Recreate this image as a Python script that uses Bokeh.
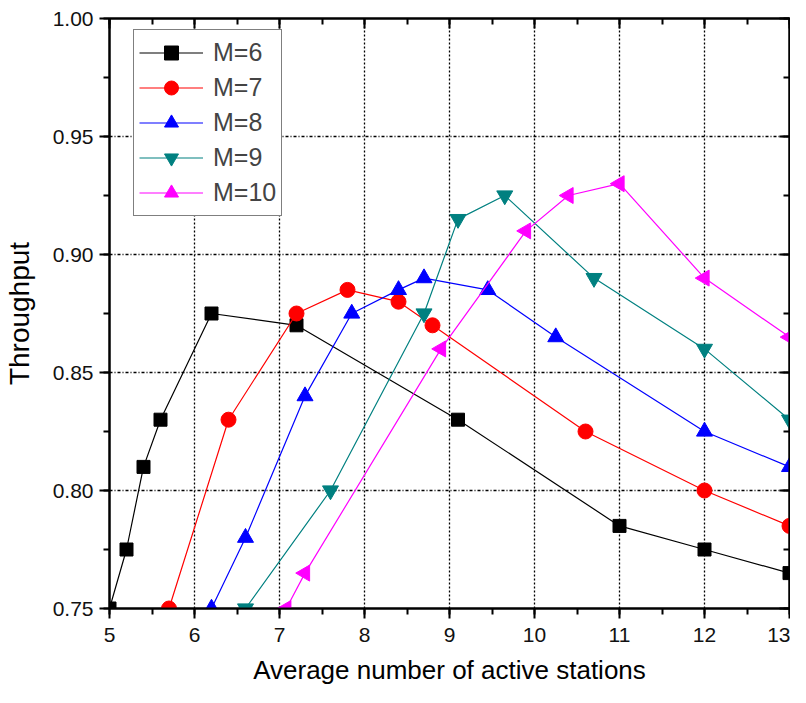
import numpy as np
from bokeh.plotting import figure
from bokeh.models import (LinearAxis, SingleIntervalTicker, Range1d, Legend, LegendItem,
                          NumeralTickFormatter, CustomJSTickFormatter, ColumnDataSource)
from bokeh.embed import file_html
from bokeh.resources import INLINE

# ---- data ----
x_m6 = [5.0, 5.2, 5.4, 5.6, 6.2, 7.2, 9.1, 11.0, 12.0, 13.0]
y_m6 = [0.750, 0.775, 0.810, 0.830, 0.875, 0.870, 0.830, 0.785, 0.775, 0.765]

x_m7 = [5.7, 6.4, 7.2, 7.8, 8.4, 8.8, 10.6, 12.0, 13.0]
y_m7 = [0.750, 0.830, 0.875, 0.885, 0.880, 0.870, 0.825, 0.800, 0.785]

x_m8 = [6.2, 6.6, 7.3, 7.85, 8.4, 8.7, 9.45, 10.25, 12.0, 13.0]
y_m8 = [0.750, 0.780, 0.840, 0.875, 0.885, 0.890, 0.885, 0.865, 0.825, 0.810]

x_m9 = [6.6, 7.6, 8.7, 9.1, 9.65, 10.7, 12.0, 13.0]
y_m9 = [0.750, 0.800, 0.875, 0.915, 0.925, 0.890, 0.860, 0.830]

x_m10 = [7.08, 7.3, 8.9, 9.9, 10.4, 11.0, 12.0, 13.0]
y_m10 = [0.750, 0.765, 0.860, 0.910, 0.925, 0.930, 0.890, 0.865]

labels = ["M=6", "M=7", "M=8", "M=9", "M=10"]
colors = ["#000000", "#ff0000", "#0000ff", "#008080", "#ff00ff"]

FONT = "Liberation Sans"

p = figure(width=790, height=687, output_backend="svg", toolbar_location=None,
           x_range=Range1d(5, 13), y_range=Range1d(0.75, 1.0),
           min_border_left=103, min_border_right=1, min_border_top=18, min_border_bottom=40)
p.outline_line_color = "black"
p.outline_line_width = 2
p.background_fill_color = "white"
p.border_fill_color = "white"

p.xaxis.ticker = SingleIntervalTicker(interval=1, num_minor_ticks=2)
p.yaxis.ticker = SingleIntervalTicker(interval=0.05, num_minor_ticks=2)
p.yaxis.formatter = NumeralTickFormatter(format="0.00")

for ax in (p.xaxis[0], p.yaxis[0]):
    ax.axis_line_width = 2
    ax.major_tick_line_width = 2
    ax.minor_tick_line_width = 2
    ax.major_tick_out = 10
    ax.major_tick_in = 0
    ax.minor_tick_out = 6
    ax.minor_tick_in = 0
    ax.major_label_text_font = FONT
    ax.major_label_text_font_size = "21px"
    ax.major_label_text_color = "#111111"
    ax.axis_label_text_font = FONT
    ax.axis_label_text_font_style = "normal"
    ax.axis_label_text_color = "#000000"

p.xaxis.axis_label = "Average number of active stations"
p.xaxis.axis_label_text_font_size = "26px"
p.xaxis.major_label_standoff = 9
p.xaxis.axis_label_standoff = 10
p.yaxis.axis_label = "Throughput"
p.yaxis.axis_label_text_font_size = "28px"
p.yaxis.major_label_standoff = 6
p.yaxis.axis_label_standoff = 15

# top and right axes with inward ticks, no labels
top = LinearAxis(ticker=SingleIntervalTicker(interval=1, num_minor_ticks=2),
                 formatter=CustomJSTickFormatter(code="return ''"), major_label_standoff=0)
right = LinearAxis(ticker=SingleIntervalTicker(interval=0.05, num_minor_ticks=2),
                   formatter=CustomJSTickFormatter(code="return ''"), major_label_standoff=0)
for ax in (top, right):
    ax.axis_line_width = 2
    ax.major_tick_line_width = 2
    ax.minor_tick_line_width = 2
    ax.major_tick_out = 0
    ax.major_tick_in = 10
    ax.minor_tick_out = 0
    ax.minor_tick_in = 6
p.add_layout(top, "above")
p.add_layout(right, "right")

p.xgrid.grid_line_color = "black"
p.xgrid.grid_line_dash = "2 2"
p.xgrid.grid_line_width = 1.3
p.ygrid.grid_line_color = "black"
p.ygrid.grid_line_dash = "3 2 1 2"
p.ygrid.grid_line_width = 1.3

series = [(x_m6, y_m6), (x_m7, y_m7), (x_m8, y_m8), (x_m9, y_m9), (x_m10, y_m10)]
markers = ["square", "circle", "triangle", "inverted_triangle", "triangle"]
sizes = [13, 15, 16, 16, 16]
angles = [0.0, 0.0, 0.0, 0.0, np.pi / 2]

items = []
for (xs, ys), lab, col, mk, sz, ang in zip(series, labels, colors, markers, sizes, angles):
    src = ColumnDataSource(dict(x=xs, y=ys, a=[ang] * len(xs)))
    ln = p.line("x", "y", source=src, line_color=col, line_width=1.2)
    sc = p.scatter("x", "y", source=src, marker=mk, size=sz, angle="a",
                   fill_color=col, line_color=col)
    items.append(LegendItem(label=lab, renderers=[ln, sc], index=0))

legend = Legend(items=items, location=(24, 392))
legend.label_text_font = FONT
legend.label_text_font_size = "25px"
legend.glyph_width = 64
legend.glyph_height = 35
legend.label_height = 35
legend.spacing = 0
legend.padding = 5
legend.label_standoff = 10
legend.border_line_color = "black"
legend.border_line_width = 1.3
legend.background_fill_alpha = 1
p.add_layout(legend, "center")

open("out.html", "w").write(file_html(p, INLINE))
